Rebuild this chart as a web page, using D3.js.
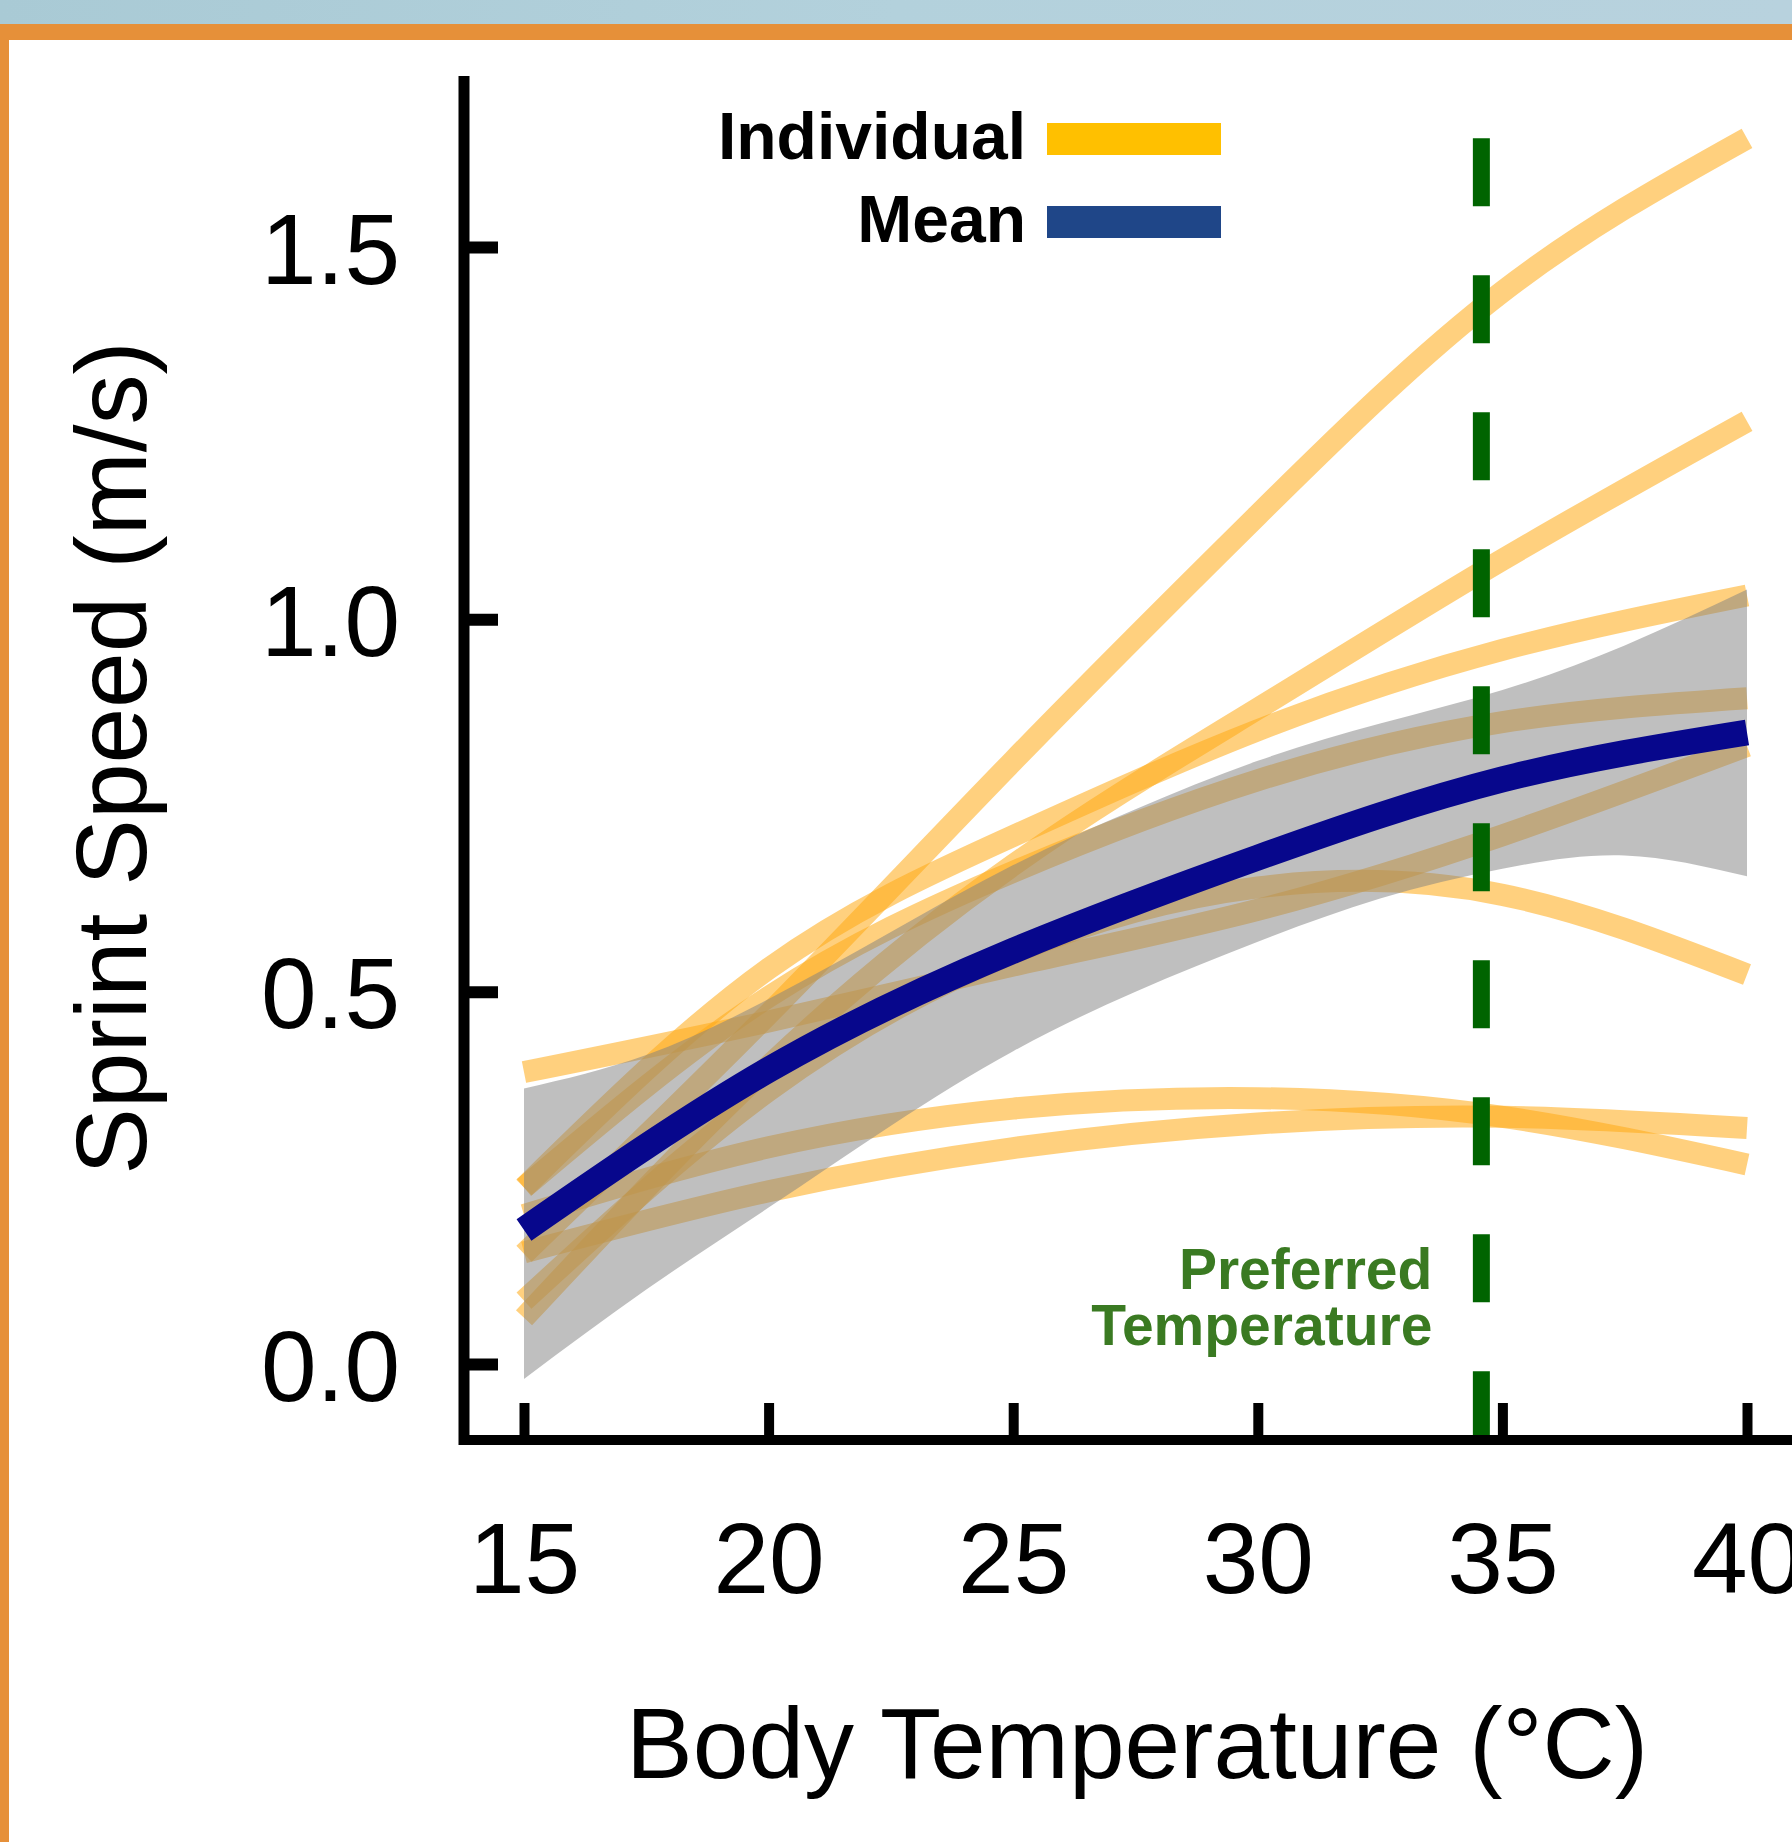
<!DOCTYPE html>
<html>
<head>
<meta charset="utf-8">
<script src="https://cdn.jsdelivr.net/npm/d3@7"></script>
<style>
body { margin: 0; background: #fff; }
svg { display: block; font-family: "Liberation Sans", Arial, sans-serif; }
</style>
</head>
<body>
<div id="chart-area"></div>
<script>
// values
var temps = [15, 20, 25, 30, 35, 40]
var individualSpeeds = [
    [0.148, 0.47, 0.81, 1.14, 1.44, 1.646],
    [0.062, 0.40, 0.67, 0.88, 1.08, 1.266],
    [0.237, 0.531, 0.709, 0.851, 0.959, 1.032],
    [0.237, 0.493, 0.661, 0.784, 0.862, 0.894],
    [0.392, 0.46, 0.535, 0.61, 0.71, 0.83],
    [0.085, 0.367, 0.552, 0.64, 0.63, 0.523],
    [0.15, 0.232, 0.29, 0.323, 0.332, 0.317],
    [0.20, 0.291, 0.343, 0.357, 0.332, 0.268]
]
var meanSpeed = [0.18, 0.395, 0.555, 0.68, 0.785, 0.848]

var bandTemps = [15, 17.5, 20, 22.5, 25, 27.5, 30, 32.5, 35, 37.5, 40]
var bandUpper = [0.37, 0.415, 0.49, 0.58, 0.67, 0.745, 0.81, 0.86, 0.905, 0.965, 1.04]
var bandLower = [-0.02, 0.10, 0.21, 0.32, 0.42, 0.50, 0.567, 0.625, 0.665, 0.683, 0.655]

var preferredTemp = 34.57
var xTicks = [15, 20, 25, 30, 35, 40]
var yTicks = [0, 0.5, 1.0, 1.5]
var legendLabels = ["Individual", "Mean"]

var width = 1792
var height = 1842

var svg = d3.select("#chart-area")
    .append("svg")
    .attr("width", width)
    .attr("height", height)

// frame of the slide
var grad = svg.append("defs").append("linearGradient")
    .attr("id", "sky")
grad.append("stop").attr("offset", "0%").attr("stop-color", "#a9cad5")
grad.append("stop").attr("offset", "50%").attr("stop-color", "#b3d1dc")
grad.append("stop").attr("offset", "100%").attr("stop-color", "#b8d2de")

svg.append("rect").attr("x", 0).attr("y", 0).attr("width", width).attr("height", 24).attr("fill", "url(#sky)")
svg.append("rect").attr("x", 0).attr("y", 24).attr("width", width).attr("height", 16).attr("fill", "#e69039")
svg.append("rect").attr("x", 0).attr("y", 24).attr("width", 9).attr("height", height - 24).attr("fill", "#e69039")

var convertToX = d3.scaleLinear()
    .domain([15, 40])
    .range([524, 1747])

var convertToY = d3.scaleLinear()
    .domain([0, 1.5])
    .range([1364, 247])

var axisY = 1440
var axisX = 464

var speedLine = d3.line()
    .x(function(d, i) { return convertToX(temps[i]) })
    .y(function(d) { return convertToY(d) })
    .curve(d3.curveNatural)

// individual curves
svg.append("g")
    .selectAll("path")
    .data(individualSpeeds)
    .enter().append("path")
    .attr("d", speedLine)
    .attr("fill", "none")
    .attr("stroke", "rgb(255,170,20)")
    .attr("stroke-opacity", 0.55)
    .attr("stroke-width", 22)

// confidence band
var band = d3.area()
    .x(function(d, i) { return convertToX(bandTemps[i]) })
    .y0(function(d, i) { return convertToY(bandLower[i]) })
    .y1(function(d) { return convertToY(d) })
    .curve(d3.curveNatural)

svg.append("path")
    .datum(bandUpper)
    .attr("d", band)
    .attr("fill", "rgb(128,128,128)")
    .attr("fill-opacity", 0.5)

// mean curve
svg.append("path")
    .datum(meanSpeed)
    .attr("d", speedLine)
    .attr("fill", "none")
    .attr("stroke", "#07078c")
    .attr("stroke-width", 26)

// preferred temperature
svg.append("line")
    .attr("x1", convertToX(preferredTemp))
    .attr("x2", convertToX(preferredTemp))
    .attr("y1", convertToY(1.646))
    .attr("y2", axisY - 5)
    .attr("stroke", "#006400")
    .attr("stroke-width", 17)
    .attr("stroke-dasharray", "68 69")

var note = svg.append("text")
    .attr("text-anchor", "end")
    .attr("font-weight", "bold")
    .attr("font-size", 57)
    .attr("fill", "#3a7a22")
note.append("tspan").attr("x", convertToX(preferredTemp) - 49).attr("y", 1289).text("Preferred")
note.append("tspan").attr("x", convertToX(preferredTemp) - 49).attr("y", 1345).text("Temperature")

// axes
var yAxisCall = d3.axisLeft(convertToY)
    .tickValues(yTicks)
    .tickSize(-34)
    .tickPadding(64)
    .tickFormat(d3.format(".1f"))

var yGroup = svg.append("g")
    .attr("transform", "translate(" + axisX + ",0)")
    .call(yAxisCall)
yGroup.select(".domain").remove()
yGroup.selectAll("line").attr("stroke", "#000").attr("stroke-width", 12)
yGroup.selectAll("text")
    .attr("font-size", 100)
    .attr("font-family", "'Liberation Sans', Arial, sans-serif")
    .attr("fill", "#000")
    .attr("dy", "0.36em")

svg.append("line")
    .attr("x1", axisX).attr("x2", axisX)
    .attr("y1", 76).attr("y2", axisY + 5)
    .attr("stroke", "#000").attr("stroke-width", 11)

var xAxisCall = d3.axisBottom(convertToX)
    .tickValues(xTicks)
    .tickSize(-37)
    .tickPadding(82)

var xGroup = svg.append("g")
    .attr("transform", "translate(0," + axisY + ")")
    .call(xAxisCall)
xGroup.select(".domain").remove()
xGroup.selectAll("line").attr("stroke", "#000").attr("stroke-width", 10)
xGroup.selectAll("text")
    .attr("font-size", 100)
    .attr("font-family", "'Liberation Sans', Arial, sans-serif")
    .attr("fill", "#000")

svg.append("line")
    .attr("x1", axisX - 5).attr("x2", width)
    .attr("y1", axisY).attr("y2", axisY)
    .attr("stroke", "#000").attr("stroke-width", 10)

// titles
svg.append("text")
    .attr("x", 1137)
    .attr("y", 1778)
    .attr("text-anchor", "middle")
    .attr("font-size", 100)
    .text("Body Temperature (°C)")

svg.append("text")
    .attr("transform", "translate(146,758) rotate(-90)")
    .attr("text-anchor", "middle")
    .attr("font-size", 100)
    .text("Sprint Speed (m/s)")

// legend
var legendColors = ["#ffc000", "#1f4688"]
var legendRows = [139, 222]
var legend = svg.append("g")
    .selectAll("g")
    .data(legendLabels)
    .enter().append("g")
    .attr("transform", function(d, i) { return "translate(0," + legendRows[i] + ")" })

legend.append("text")
    .attr("x", 1026)
    .attr("y", 20)
    .attr("text-anchor", "end")
    .attr("font-weight", "bold")
    .attr("font-size", 66)
    .text(function(d) { return d })

legend.append("rect")
    .attr("x", 1047)
    .attr("y", -16)
    .attr("width", 174)
    .attr("height", 32)
    .attr("fill", function(d, i) { return legendColors[i] })
</script>
</body>
</html>
